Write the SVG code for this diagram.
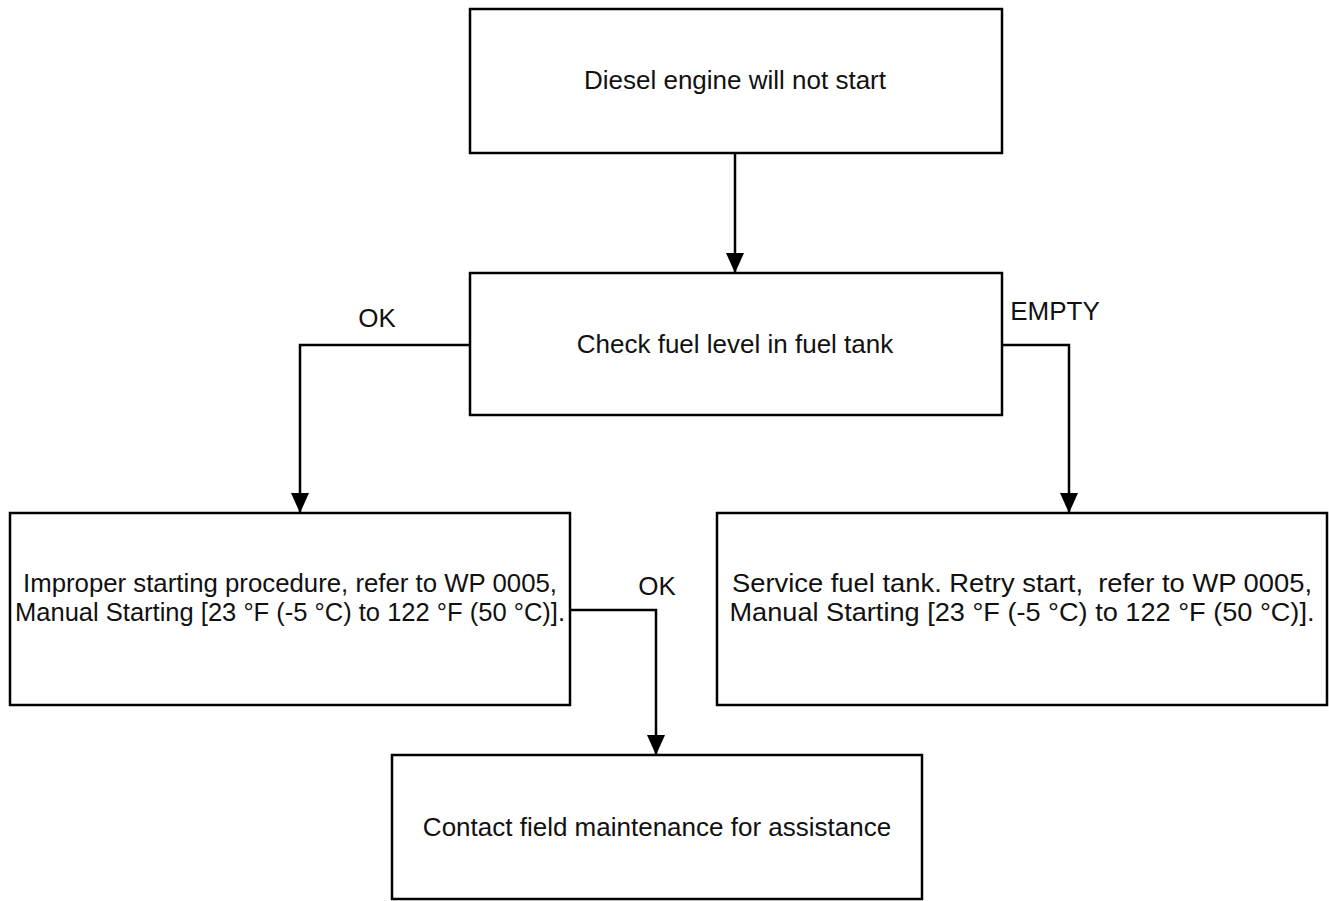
<svg xmlns="http://www.w3.org/2000/svg" width="1329" height="901" viewBox="0 0 1329 901">
<defs>
<style>
.box{fill:#fff;stroke:#000;stroke-width:2.5}
.ln{fill:none;stroke:#000;stroke-width:2.5;marker-end:url(#ah)}
text{font-family:"Liberation Sans",Arial,sans-serif;font-size:26px;fill:#111;white-space:pre}
.c{text-anchor:middle}
</style>
<marker id="ah" viewBox="0 0 20 18" refX="20" refY="9" markerWidth="20" markerHeight="18" markerUnits="userSpaceOnUse" orient="auto">
<path d="M0,0 L20,9 L0,18 Z" fill="#000"/>
</marker>
</defs>
<rect width="1329" height="901" fill="#fff"/>
<g id="connectors">
<line class="ln" x1="735" y1="153" x2="735" y2="273"/>
<polyline class="ln" points="470,345 300,345 300,513"/>
<polyline class="ln" points="1002,345 1069,345 1069,513"/>
<polyline class="ln" points="570,610 656,610 656,755"/>
<text x="377" y="327" class="c">OK</text>
<text x="1055" y="320" class="c">EMPTY</text>
<text x="657" y="595" class="c">OK</text>
</g>
<g id="n1"><rect class="box" x="470" y="9" width="532" height="144"/><text x="735" y="89" class="c">Diesel engine will not start</text></g>
<g id="n2"><rect class="box" x="470" y="273" width="532" height="142"/><text x="735" y="353" class="c">Check fuel level in fuel tank</text></g>
<g id="n3"><rect class="box" x="10" y="513" width="560" height="192"/><text x="290" y="592" class="c" textLength="534" lengthAdjust="spacingAndGlyphs">Improper starting procedure, refer to WP 0005,</text><text x="290" y="621" class="c" textLength="550" lengthAdjust="spacingAndGlyphs">Manual Starting [23 °F (-5 °C) to 122 °F (50 °C)].</text></g>
<g id="n4"><rect class="box" x="717" y="513" width="610" height="192"/><text x="1022" y="592" class="c" xml:space="preserve" textLength="580" lengthAdjust="spacingAndGlyphs">Service fuel tank. Retry start,  refer to WP 0005,</text><text x="1022" y="621" class="c" textLength="585" lengthAdjust="spacingAndGlyphs">Manual Starting [23 °F (-5 °C) to 122 °F (50 °C)].</text></g>
<g id="n5"><rect class="box" x="392" y="755" width="530" height="144"/><text x="657" y="836" class="c">Contact field maintenance for assistance</text></g>
</svg>
